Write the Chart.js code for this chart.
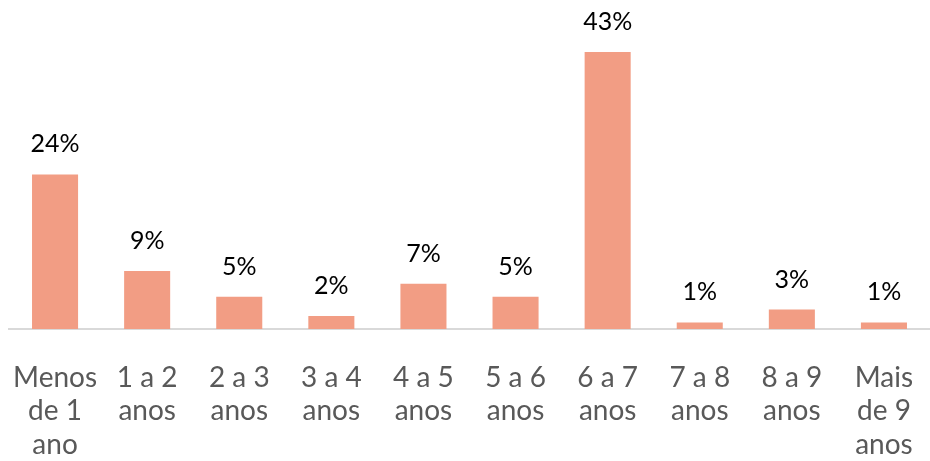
<!DOCTYPE html>
<html>
<head>
<meta charset="utf-8">
<script src="https://cdn.jsdelivr.net/npm/chart.js@4/dist/chart.umd.min.js"></script>
<style>
  html, body { margin: 0; padding: 0; background: #fff; }
  #wrap { width: 930px; height: 461px; }
</style>
</head>
<body>
<div id="wrap"><canvas id="c" width="930" height="461"></canvas></div>
<script>
const categories = [
  ["Menos", "de 1", "ano"],
  ["1 a 2", "anos"],
  ["2 a 3", "anos"],
  ["3 a 4", "anos"],
  ["4 a 5", "anos"],
  ["5 a 6", "anos"],
  ["6 a 7", "anos"],
  ["7 a 8", "anos"],
  ["8 a 9", "anos"],
  ["Mais", "de 9", "anos"]
];
const shares = [24, 9, 5, 2, 7, 5, 43, 1, 3, 1];

const FONT = "Lato, 'Open Sans', sans-serif";

// Writes the percentage above each bar
const valueLabels = {
  id: 'valueLabels',
  afterDatasetsDraw(chart) {
    const ctx = chart.ctx;
    const meta = chart.getDatasetMeta(0);
    ctx.save();
    ctx.font = '25px ' + FONT;
    ctx.fillStyle = '#000000';
    ctx.textAlign = 'center';
    ctx.textBaseline = 'alphabetic';
    meta.data.forEach((bar, i) => {
      ctx.fillText(shares[i] + '%', bar.x, bar.y - 22);
    });
    ctx.restore();
  }
};

new Chart(document.getElementById('c'), {
  type: 'bar',
  data: {
    labels: categories,
    datasets: [{
      data: shares,
      backgroundColor: '#F29D84',
      borderWidth: 0,
      barPercentage: 0.5,
      categoryPercentage: 1.0
    }]
  },
  options: {
    responsive: false,
    animation: false,
    events: [],
    layout: { padding: { left: 9, right: -4, top: 7, bottom: 0 } },
    plugins: { legend: { display: false }, tooltip: { enabled: false } },
    scales: {
      x: {
        // invisible tick marks give the gap between the axis line and the labels
        grid: {
          display: true,
          drawOnChartArea: false,
          drawTicks: true,
          tickLength: 33,
          tickColor: 'rgba(0,0,0,0)'
        },
        border: { display: true, color: '#D9D9D9', width: 2 },
        ticks: {
          color: '#595959',
          font: { family: FONT, size: 28, lineHeight: 1.18 },
          padding: 0,
          maxRotation: 0,
          autoSkip: false
        }
      },
      y: {
        display: false,
        min: 0,
        max: 50
      }
    }
  },
  plugins: [valueLabels]
});
</script>
</body>
</html>
